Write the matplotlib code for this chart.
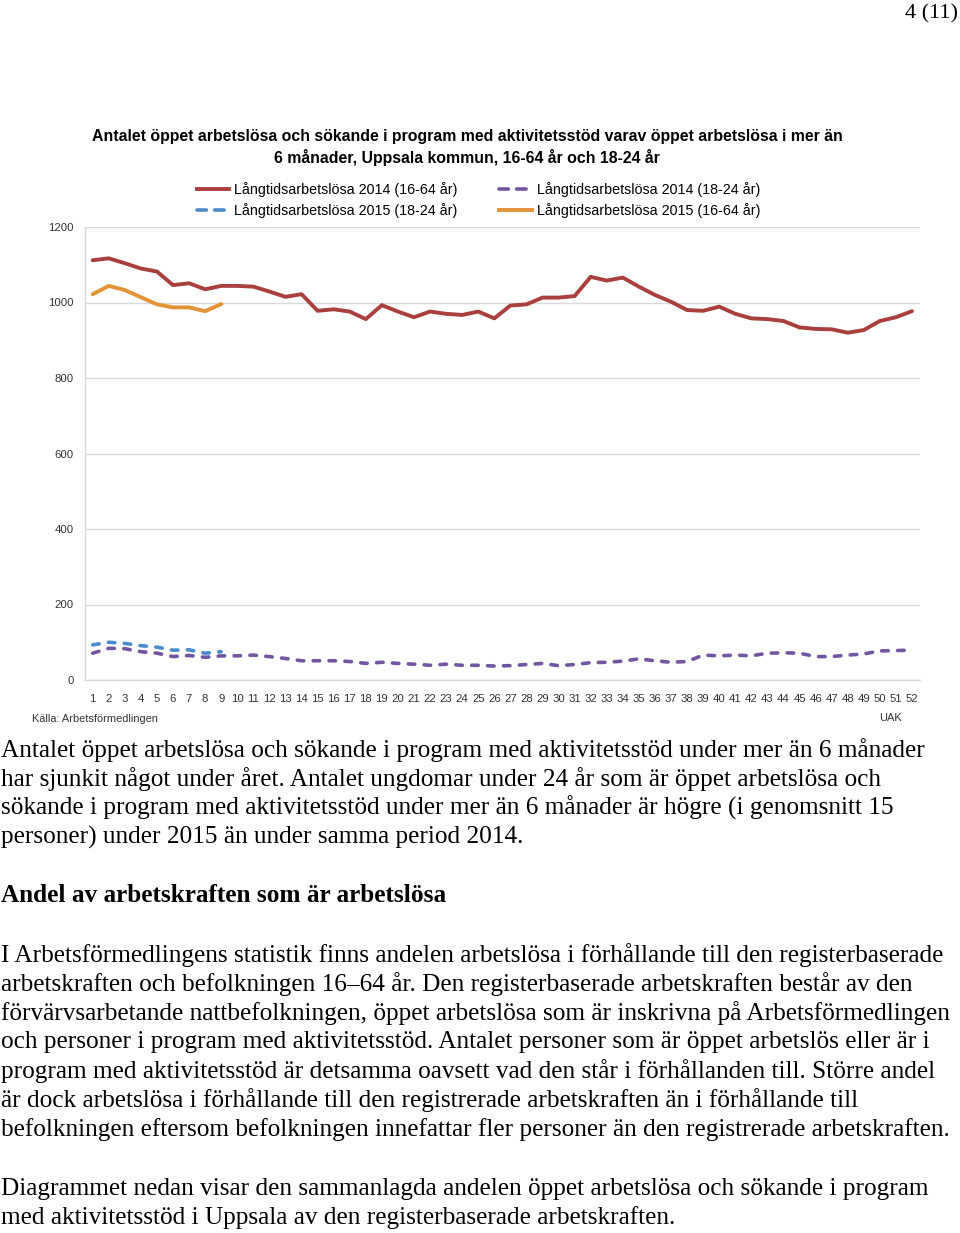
import matplotlib.pyplot as plt
from matplotlib.lines import Line2D

W, H = 960, 1233

weeks = list(range(1, 53))
week_labels = [str(w) for w in weeks]

# Långtidsarbetslösa 2014 (16-64 år)
red_2014 = [1112, 1117, 1104, 1090, 1082, 1046, 1051, 1035, 1044, 1044,
            1042, 1029, 1015, 1022, 978, 982, 976, 956, 993, 976,
            961, 976, 970, 967, 976, 958, 992, 995, 1013, 1013,
            1017, 1068, 1058, 1066, 1042, 1020, 1002, 980, 978, 989,
            970, 958, 956, 951, 934, 930, 929, 920, 927, 951,
            961, 977]
# Långtidsarbetslösa 2015 (16-64 år), weeks 1-9
orange_2015 = [1022, 1044, 1033, 1014, 995, 987, 987, 977, 996]
# Långtidsarbetslösa 2014 (18-24 år)
purple_2014 = [71, 84, 83, 75, 71, 62, 65, 60, 64, 64,
               66, 62, 57, 51, 51, 51, 49, 44, 47, 44,
               42, 39, 42, 39, 39, 37, 38, 41, 44, 38,
               41, 46, 47, 50, 56, 51, 47, 49, 66, 64,
               66, 64, 71, 72, 71, 62, 62, 66, 69, 77,
               78, 79]
# Långtidsarbetslösa 2015 (18-24 år), weeks 1-9
blue_2015 = [93, 100, 97, 91, 87, 79, 80, 71, 75]

y_ticks = [0, 200, 400, 600, 800, 1000, 1200]

RED = "#A9403E"
ORANGE = "#E39338"
PURPLE = "#7257A0"
BLUE = "#4D8BCB"
GRID = "#D9D9D9"

fig = plt.figure(figsize=(W / 100, H / 100), dpi=100)


def fx(px):
    return px / W


def fy(py):
    return 1 - py / H


ax = fig.add_axes([fx(84.7), fy(680), fx(920) - fx(84.7), fy(227) - fy(680)])

dash = (0, (1.8, 2.6))
ax.plot(weeks, red_2014, color=RED, lw=2.8, solid_capstyle="round")
ax.plot(weeks[:9], orange_2015, color=ORANGE, lw=2.8, solid_capstyle="round")
ax.plot(weeks, purple_2014, color=PURPLE, lw=2.6, linestyle=dash, dash_capstyle="round")
ax.plot(weeks[:9], blue_2015, color=BLUE, lw=2.6, linestyle=dash, dash_capstyle="round")

ax.set_xlim(0.5, 52.5)
ax.set_ylim(0, 1200)
ax.set_xticks(weeks)
ax.set_xticklabels(week_labels, fontsize=8.2, family="Liberation Sans", color="#333333")
ax.set_yticks(y_ticks)
ax.set_yticklabels([str(v) for v in y_ticks], fontsize=8.2, family="Liberation Sans", color="#333333")
ax.tick_params(length=0)
ax.tick_params(axis="x", pad=10)
ax.tick_params(axis="y", pad=8)
ax.grid(axis="y", color=GRID, lw=1)
ax.set_axisbelow(True)
for side in ["top", "right"]:
    ax.spines[side].set_visible(False)
for side in ["left", "bottom"]:
    ax.spines[side].set_color(GRID)
    ax.spines[side].set_linewidth(1)

# chart title
title_kw = dict(ha="center", va="center", fontsize=11.4, fontweight="bold", family="Liberation Sans")
fig.text(fx(467), fy(136), "Antalet öppet arbetslösa och sökande i program med aktivitetsstöd varav öppet arbetslösa i mer än", **title_kw)
fig.text(fx(467), fy(157), "6 månader, Uppsala kommun, 16-64 år och 18-24 år", **title_kw)

leg_dash = (0, (2.6, 2.3))
handles = [
    Line2D([], [], color=RED, lw=2.8),
    Line2D([], [], color=BLUE, lw=2.6, linestyle=leg_dash, dash_capstyle="round"),
    Line2D([], [], color=PURPLE, lw=2.6, linestyle=leg_dash, dash_capstyle="round"),
    Line2D([], [], color=ORANGE, lw=2.8),
]
labels = [
    "Långtidsarbetslösa 2014 (16-64 år)",
    "Långtidsarbetslösa 2015 (18-24 år)",
    "Långtidsarbetslösa 2014 (18-24 år)",
    "Långtidsarbetslösa 2015 (16-64 år)",
]
fig.legend(handles, labels, ncol=2, loc="center", bbox_to_anchor=(fx(478.5), fy(200)),
           frameon=False, prop={"family": "Liberation Sans", "size": 10.3},
           handlelength=2.3, handletextpad=0.35, columnspacing=2.87, labelspacing=0.45,
           borderpad=0, borderaxespad=0)

small = dict(fontsize=7.9, family="Liberation Sans", color="#333333", va="center")
fig.text(fx(32), fy(719), "Källa: Arbetsförmedlingen", ha="left", **small)
fig.text(fx(902), fy(718), "UAK", ha="right", **small)

# page number
fig.text(fx(958), fy(18), "4 (11)", ha="right", va="baseline", fontsize=16, family="Liberation Serif")

body = dict(ha="left", va="center", fontsize=18.2, family="Liberation Serif")
lines = [
    (750, "Antalet öppet arbetslösa och sökande i program med aktivitetsstöd under mer än 6 månader"),
    (779, "har sjunkit något under året. Antalet ungdomar under 24 år som är öppet arbetslösa och"),
    (808, "sökande i program med aktivitetsstöd under mer än 6 månader är högre (i genomsnitt 15"),
    (837, "personer) under 2015 än under samma period 2014."),
    (955, "I Arbetsförmedlingens statistik finns andelen arbetslösa i förhållande till den registerbaserade"),
    (984, "arbetskraften och befolkningen 16–64 år. Den registerbaserade arbetskraften består av den"),
    (1013, "förvärvsarbetande nattbefolkningen, öppet arbetslösa som är inskrivna på Arbetsförmedlingen"),
    (1042, "och personer i program med aktivitetsstöd. Antalet personer som är öppet arbetslös eller är i"),
    (1071, "program med aktivitetsstöd är detsamma oavsett vad den står i förhållanden till. Större andel"),
    (1100, "är dock arbetslösa i förhållande till den registrerade arbetskraften än i förhållande till"),
    (1130, "befolkningen eftersom befolkningen innefattar fler personer än den registrerade arbetskraften."),
    (1189, "Diagrammet nedan visar den sammanlagda andelen öppet arbetslösa och sökande i program"),
    (1218, "med aktivitetsstöd i Uppsala av den registerbaserade arbetskraften."),
]
for y, txt in lines:
    fig.text(fx(1), fy(y), txt, **body)
fig.text(fx(1), fy(896), "Andel av arbetskraften som är arbetslösa", ha="left", va="center",
         fontsize=18.2, fontweight="bold", family="Liberation Serif")

fig.savefig("out.png", dpi=100)
